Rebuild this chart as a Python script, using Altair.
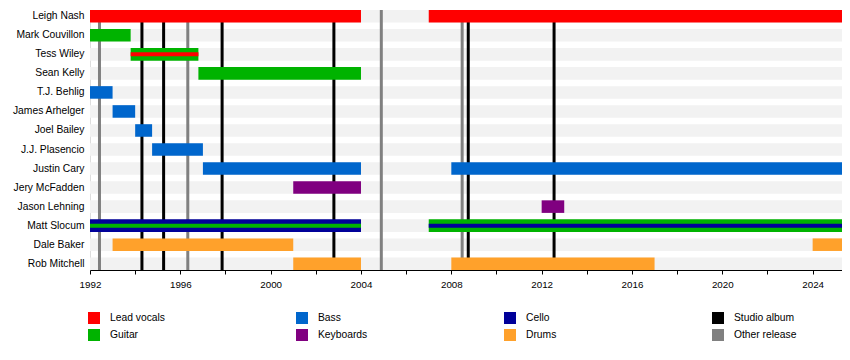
import altair as alt
import pandas as pd

FONT = "Liberation Sans"
X_START = 1992.0
X_END = 2025.3

members = ["Leigh Nash", "Mark Couvillon", "Tess Wiley", "Sean Kelly", "T.J. Behlig",
           "James Arhelger", "Joel Bailey", "J.J. Plasencio", "Justin Cary",
           "Jery McFadden", "Jason Lehning", "Matt Slocum", "Dale Baker", "Rob Mitchell"]

# main bars
bar_member = ["Leigh Nash", "Leigh Nash", "Mark Couvillon", "Tess Wiley", "Sean Kelly",
              "T.J. Behlig", "James Arhelger", "Joel Bailey", "J.J. Plasencio",
              "Justin Cary", "Justin Cary", "Jery McFadden", "Jason Lehning",
              "Matt Slocum", "Matt Slocum", "Dale Baker", "Dale Baker",
              "Rob Mitchell", "Rob Mitchell"]
bar_role = ["Lead vocals", "Lead vocals", "Guitar", "Guitar", "Guitar",
            "Bass", "Bass", "Bass", "Bass", "Bass", "Bass", "Keyboards", "Keyboards",
            "Cello", "Guitar", "Drums", "Drums", "Drums", "Drums"]
bar_start = [1992.0, 2007.0, 1992.0, 1993.8, 1996.8, 1992.0, 1993.0, 1994.0, 1994.75,
             1997.0, 2008.0, 2001.0, 2012.0, 1992.0, 2007.0, 1993.0, 2024.0, 2001.0, 2008.0]
bar_end = [2004.0, X_END, 1993.8, 1996.8, 2004.0, 1993.0, 1994.0, 1994.75, 1997.0,
           2004.0, X_END, 2004.0, 2013.0, 2004.0, X_END, 2001.0, X_END, 2004.0, 2017.0]

# thin secondary-role stripes
stripe_member = ["Tess Wiley", "Matt Slocum", "Matt Slocum"]
stripe_role = ["Lead vocals", "Guitar", "Cello"]
stripe_start = [1993.8, 1992.0, 2007.0]
stripe_end = [1996.8, 2004.0, X_END]

# release lines
release_year = [1994.3, 1995.26, 1997.85, 2002.8, 2008.75, 2012.55,
                1992.42, 1996.33, 2004.9, 2008.48]
release_type = ["Studio album"] * 6 + ["Other release"] * 4

legend_domain = ["Lead vocals", "Guitar", "Bass", "Keyboards",
                 "Cello", "Drums", "Studio album", "Other release"]
legend_range = ["#ff0000", "#00b300", "#0066cc", "#800080",
                "#000099", "#ffa12b", "#000000", "#808080"]

bars = pd.DataFrame({"member": bar_member, "role": bar_role,
                     "start": bar_start, "end": bar_end})
stripes = pd.DataFrame({"member": stripe_member, "role": stripe_role,
                        "start": stripe_start, "end": stripe_end})
releases = pd.DataFrame({"year": release_year, "type": release_type})
background = pd.DataFrame({"member": members, "start": [X_START] * len(members),
                           "end": [X_END] * len(members)})

x_scale = alt.Scale(domain=[X_START, X_END], nice=False, zero=False)
y_scale = alt.Scale(domain=members, paddingInner=0.34, paddingOuter=0)
color_scale = alt.Scale(domain=legend_domain, range=legend_range)

x_axis = alt.Axis(
    values=list(range(1992, 2026)), labelExpr="datum.value % 4 == 0 ? datum.value : ''",
    format="d", grid=False, tickSize=4, tickColor="black", domainColor="black",
    labelFont=FONT, labelFontSize=9.8, labelColor="black", labelPadding=5, title=None,
    labelFlush=False, labelOverlap=False)
y_axis = alt.Axis(domain=False, ticks=False, labelFont=FONT, labelFontSize=10.3,
                  labelColor="black", labelPadding=6, title=None)

bg = alt.Chart(background).mark_bar(color="#f2f2f2").encode(
    x=alt.X("start:Q", scale=x_scale, axis=x_axis),
    x2="end:Q",
    y=alt.Y("member:N", scale=y_scale, axis=y_axis, sort=members),
)

rules = alt.Chart(releases).mark_rule(strokeWidth=3).encode(
    x=alt.X("year:Q", scale=x_scale),
    color=alt.Color("type:N", scale=color_scale),
)

main = alt.Chart(bars).mark_bar().encode(
    x=alt.X("start:Q", scale=x_scale),
    x2="end:Q",
    y=alt.Y("member:N", scale=y_scale, sort=members),
    color=alt.Color("role:N", scale=color_scale, legend=alt.Legend(
        title=None, orient="none", legendX=-2, legendY=302, columns=4,
        gridAlign="all", columnPadding=123, rowPadding=5, symbolType="square",
        symbolSize=144, symbolStrokeWidth=0, symbolOpacity=1, labelFont=FONT,
        labelFontSize=10.3, labelColor="black", labelOffset=10, padding=0)),
)

thin = alt.Chart(stripes).mark_bar(height=4).encode(
    x=alt.X("start:Q", scale=x_scale),
    x2="end:Q",
    y=alt.Y("member:N", scale=y_scale, sort=members),
    color=alt.Color("role:N", scale=color_scale),
)

chart = alt.layer(bg, rules, main, thin).properties(
    width=752, height=260,
    autosize=alt.AutoSizeParams(type="none"),
    padding={"left": 82, "top": 2, "right": 0, "bottom": 80},
).configure_view(stroke=None).configure(background="white")

chart.save("out.html", embed_options={"renderer": "svg", "actions": False})
